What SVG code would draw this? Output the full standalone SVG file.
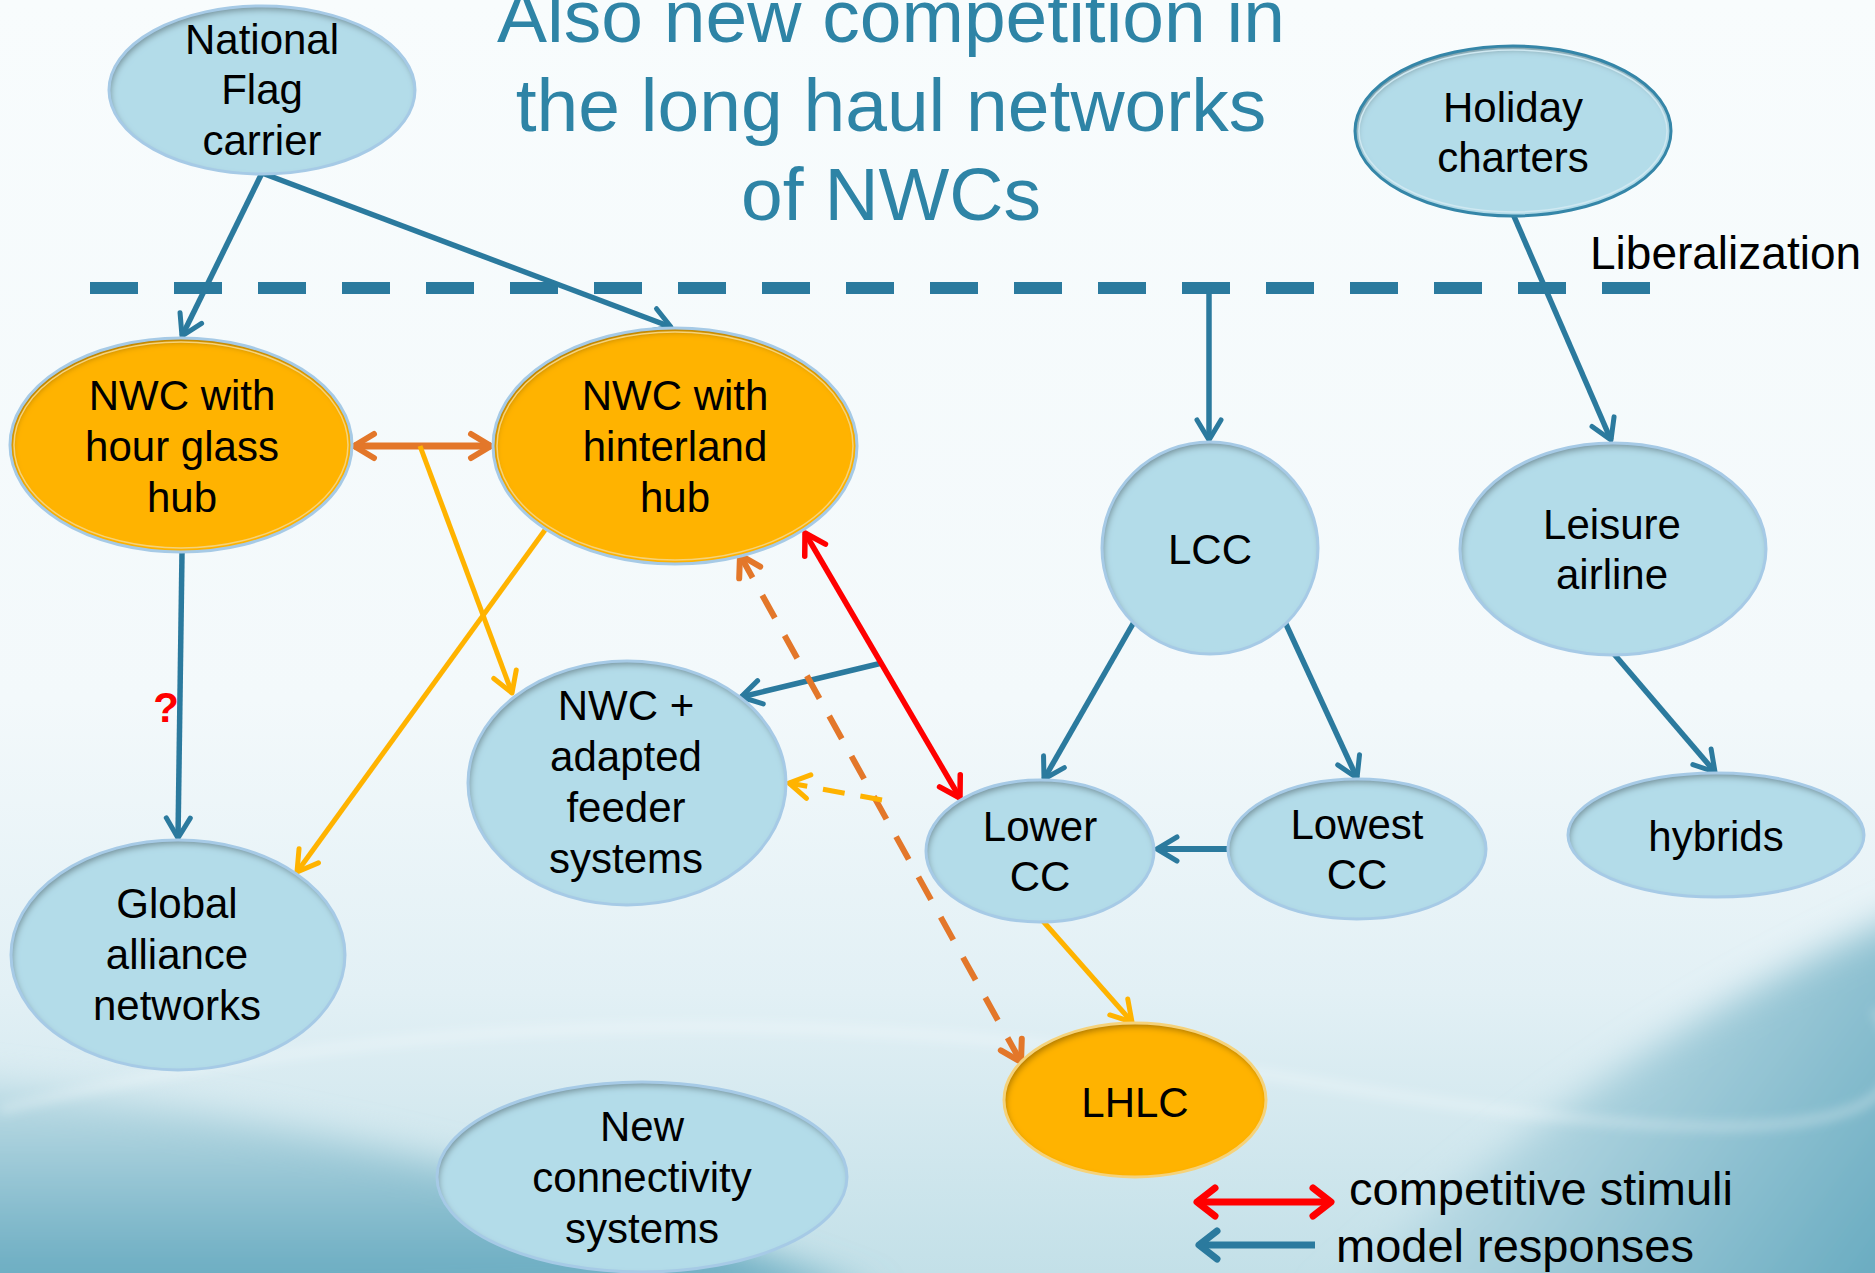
<svg xmlns="http://www.w3.org/2000/svg" width="1875" height="1273" viewBox="0 0 1875 1273">
  <defs>
    <linearGradient id="bg" x1="0" y1="0" x2="0" y2="1">
      <stop offset="0" stop-color="#F8FCFD"/>
      <stop offset="0.55" stop-color="#F3F9FB"/>
      <stop offset="0.78" stop-color="#E2F0F5"/>
      <stop offset="1" stop-color="#C3E0E8"/>
    </linearGradient>
    <linearGradient id="swoopL" gradientUnits="userSpaceOnUse" x1="0" y1="1070" x2="0" y2="1273">
      <stop offset="0" stop-color="#C6E1E9"/>
      <stop offset="1" stop-color="#6CADC2"/>
    </linearGradient>
    <linearGradient id="swoopR" gradientUnits="userSpaceOnUse" x1="1450" y1="960" x2="1875" y2="1273">
      <stop offset="0" stop-color="#D2E8EF"/>
      <stop offset="1" stop-color="#6AACC1"/>
    </linearGradient>
    <filter id="soft" x="-10%" y="-50%" width="120%" height="200%">
      <feGaussianBlur stdDeviation="6"/>
    </filter>
    <filter id="haze" x="-20%" y="-30%" width="140%" height="160%">
      <feGaussianBlur stdDeviation="18"/>
    </filter>
    <!-- inner shadow for the node discs -->
    <filter id="inset" x="-10%" y="-10%" width="120%" height="120%">
      <feComponentTransfer in="SourceAlpha" result="inv">
        <feFuncA type="table" tableValues="1 0"/>
      </feComponentTransfer>
      <feGaussianBlur in="inv" stdDeviation="3" result="blur"/>
      <feOffset in="blur" dx="2" dy="4" result="off"/>
      <feComposite in="off" in2="SourceAlpha" operator="in" result="shadow"/>
      <feFlood flood-color="#000" flood-opacity="0.6"/>
      <feComposite in2="shadow" operator="in" result="dark"/>
      <feMerge>
        <feMergeNode in="SourceGraphic"/>
        <feMergeNode in="dark"/>
      </feMerge>
    </filter>
    <marker id="hBlue" markerUnits="userSpaceOnUse" viewBox="-26 -16 30 32" refX="0" refY="0" markerWidth="30" markerHeight="32" orient="auto-start-reverse">
      <path d="M-20,-12 L0,0 L-20,12" fill="none" stroke="#2B7A9E" stroke-width="5" stroke-linecap="round" stroke-linejoin="round"/>
    </marker>
    <marker id="hBlueL" markerUnits="userSpaceOnUse" viewBox="-26 -18 30 36" refX="0" refY="0" markerWidth="30" markerHeight="36" orient="auto-start-reverse">
      <path d="M-18,-14 L0,0 L-18,14" fill="none" stroke="#2B7A9E" stroke-width="7" stroke-linecap="round" stroke-linejoin="round"/>
    </marker>
    <marker id="hRed" markerUnits="userSpaceOnUse" viewBox="-26 -16 30 32" refX="0" refY="0" markerWidth="30" markerHeight="32" orient="auto-start-reverse">
      <path d="M-20,-12 L0,0 L-20,12" fill="none" stroke="#FF0000" stroke-width="5.5" stroke-linecap="round" stroke-linejoin="round"/>
    </marker>
    <marker id="hRedL" markerUnits="userSpaceOnUse" viewBox="-26 -18 30 36" refX="0" refY="0" markerWidth="30" markerHeight="36" orient="auto-start-reverse">
      <path d="M-18,-14 L0,0 L-18,14" fill="none" stroke="#FF0000" stroke-width="7" stroke-linecap="round" stroke-linejoin="round"/>
    </marker>
    <marker id="hOrange" markerUnits="userSpaceOnUse" viewBox="-26 -16 30 32" refX="0" refY="0" markerWidth="30" markerHeight="32" orient="auto-start-reverse">
      <path d="M-20,-12 L0,0 L-20,12" fill="none" stroke="#E3772A" stroke-width="6" stroke-linecap="round" stroke-linejoin="round"/>
    </marker>
    <marker id="hYellow" markerUnits="userSpaceOnUse" viewBox="-26 -16 30 32" refX="0" refY="0" markerWidth="30" markerHeight="32" orient="auto-start-reverse">
      <path d="M-20,-12 L0,0 L-20,12" fill="none" stroke="#FFB300" stroke-width="5" stroke-linecap="round" stroke-linejoin="round"/>
    </marker>
  </defs>
  <style>
    .lbl { font-family: "Liberation Sans", Arial, sans-serif; font-size: 42px; fill: #000; text-anchor: middle; }
    .title { font-family: "Liberation Sans", Arial, sans-serif; font-size: 75px; fill: #2E84A6; text-anchor: middle; }
    .note { font-family: "Liberation Sans", Arial, sans-serif; font-size: 47px; fill: #000; }
    .blue { fill: #B3DCE9; filter: url(#inset); }
    .gold { fill: #FFB300; filter: url(#inset); }
    .rim { fill: none; stroke: #A6CAE6; stroke-width: 3; }
    .rimGold { fill: none; stroke: #F5D27A; stroke-width: 3; }
    .rimTeal { fill: none; stroke: #3586A8; stroke-width: 3; }
    .c { fill: none; stroke-linecap: butt; }
    .cb { stroke: #2B7A9E; stroke-width: 5.5; marker-end: url(#hBlue); }
    .cy { stroke: #FFB300; stroke-width: 5; marker-end: url(#hYellow); }
  </style>

  <!-- backdrop -->
  <rect x="0" y="0" width="1875" height="1273" fill="url(#bg)"/>
  <path d="M-60,1080 Q430,1125 880,1300 L-60,1320 Z" fill="url(#swoopL)" filter="url(#haze)"/>
  <path d="M1940,900 Q1600,1040 1320,1310 L1940,1320 Z" fill="url(#swoopR)" filter="url(#haze)"/>
  <path d="M0,1110 Q600,960 1300,1080 T1875,1010" fill="none" stroke="#FFFFFF" stroke-opacity="0.45" stroke-width="6" filter="url(#soft)"/>

  <!-- title -->
  <g id="title">
    <text class="title" x="891" y="42">Also new competition in</text>
    <text class="title" x="891" y="131">the long haul networks</text>
    <text class="title" x="891" y="220">of NWCs</text>
  </g>

  <!-- liberalization boundary -->
  <g id="liberalization">
    <line x1="90" y1="288" x2="1650" y2="288" stroke="#2B7A9E" stroke-width="12" stroke-dasharray="48 36"/>
    <text class="note" x="1590" y="269" style="font-size:46px">Liberalization</text>
  </g>

  <!-- connectors -->
  <g id="connectors">
    <path class="c cb" d="M262,173 L182,336"/>
    <path class="c cb" d="M262,173 L671,327"/>
    <path class="c cb" d="M1209,288 L1209,440"/>
    <path class="c cb" d="M1513,214 L1611,440"/>
    <path class="c cb" d="M182,553 L178,838"/>
    <path class="c cb" d="M1134,622 L1044,779"/>
    <path class="c cb" d="M1285,622 L1357,778"/>
    <path class="c cb" d="M1614,654 L1715,772"/>
    <path class="c cb" d="M1228,849 L1157,849" style="stroke-width:6"/>
    <path class="c cb" d="M882,663 L741,697"/>
    <path class="c" d="M805,533 L960,798" stroke="#FF0000" stroke-width="5.5" marker-start="url(#hRed)" marker-end="url(#hRed)"/>
    <path class="c" d="M354,446 L491,446" stroke="#E3772A" stroke-width="7" marker-start="url(#hOrange)" marker-end="url(#hOrange)"/>
    <path class="c" d="M740,555 L1021,1062" stroke="#E3772A" stroke-width="6" stroke-dasharray="26 20" marker-start="url(#hOrange)" marker-end="url(#hOrange)"/>
    <path class="c cy" d="M420,446 L512,693"/>
    <path class="c cy" d="M545,530 L297,872"/>
    <path class="c cy" d="M882,800 L789,783" style="stroke-dasharray:22 16"/>
    <path class="c cy" d="M1042,920 L1132,1022"/>
  </g>

  <g id="q-mark">
    <text x="166" y="722" style="font-family:'Liberation Sans',Arial,sans-serif;font-size:42px;font-weight:bold;fill:#FF0000;text-anchor:middle">?</text>
  </g>

  <!-- nodes -->
  <g id="national-flag-carrier">
    <ellipse class="blue" cx="262" cy="90" rx="153" ry="84"/>
    <ellipse class="rim" cx="262" cy="90" rx="153" ry="84"/>
    <text class="lbl" x="262" y="54">National</text>
    <text class="lbl" x="262" y="104">Flag</text>
    <text class="lbl" x="262" y="155">carrier</text>
  </g>
  <g id="holiday-charters">
    <ellipse class="blue" cx="1513" cy="131" rx="158" ry="85"/>
    <ellipse class="rimTeal" cx="1513" cy="131" rx="158" ry="85"/>
    <ellipse cx="1513" cy="131" rx="154" ry="81" fill="none" stroke="#CFE8F1" stroke-width="1.5"/>
    <text class="lbl" x="1513" y="122">Holiday</text>
    <text class="lbl" x="1513" y="172">charters</text>
  </g>
  <g id="nwc-hour-glass-hub">
    <ellipse class="gold" cx="181" cy="445" rx="171" ry="107"/>
    <ellipse class="rim" cx="181" cy="445" rx="171" ry="107"/>
    <ellipse class="rimGold" cx="181" cy="445" rx="167" ry="103" style="stroke-width:1.5"/>
    <text class="lbl" x="182" y="410">NWC with</text>
    <text class="lbl" x="182" y="461">hour glass</text>
    <text class="lbl" x="182" y="512">hub</text>
  </g>
  <g id="nwc-hinterland-hub">
    <ellipse class="gold" cx="675" cy="446" rx="182" ry="118"/>
    <ellipse class="rim" cx="675" cy="446" rx="182" ry="118"/>
    <ellipse class="rimGold" cx="675" cy="446" rx="178" ry="114" style="stroke-width:1.5"/>
    <text class="lbl" x="675" y="410">NWC with</text>
    <text class="lbl" x="675" y="461">hinterland</text>
    <text class="lbl" x="675" y="512">hub</text>
  </g>
  <g id="lcc">
    <ellipse class="blue" cx="1210" cy="548" rx="108" ry="106"/>
    <ellipse class="rim" cx="1210" cy="548" rx="108" ry="106"/>
    <text class="lbl" x="1210" y="564">LCC</text>
  </g>
  <g id="leisure-airline">
    <ellipse class="blue" cx="1613" cy="549" rx="153" ry="106"/>
    <ellipse class="rim" cx="1613" cy="549" rx="153" ry="106"/>
    <text class="lbl" x="1612" y="539">Leisure</text>
    <text class="lbl" x="1612" y="589">airline</text>
  </g>
  <g id="nwc-adapted-feeder">
    <ellipse class="blue" cx="627" cy="783" rx="159" ry="122"/>
    <ellipse class="rim" cx="627" cy="783" rx="159" ry="122"/>
    <text class="lbl" x="626" y="720">NWC +</text>
    <text class="lbl" x="626" y="771">adapted</text>
    <text class="lbl" x="626" y="822">feeder</text>
    <text class="lbl" x="626" y="873">systems</text>
  </g>
  <g id="global-alliance-networks">
    <ellipse class="blue" cx="178" cy="955" rx="167" ry="115"/>
    <ellipse class="rim" cx="178" cy="955" rx="167" ry="115"/>
    <text class="lbl" x="177" y="918">Global</text>
    <text class="lbl" x="177" y="969">alliance</text>
    <text class="lbl" x="177" y="1020">networks</text>
  </g>
  <g id="lower-cc">
    <ellipse class="blue" cx="1040" cy="851" rx="114" ry="71"/>
    <ellipse class="rim" cx="1040" cy="851" rx="114" ry="71"/>
    <text class="lbl" x="1040" y="841">Lower</text>
    <text class="lbl" x="1040" y="891">CC</text>
  </g>
  <g id="lowest-cc">
    <ellipse class="blue" cx="1357" cy="849" rx="129" ry="70"/>
    <ellipse class="rim" cx="1357" cy="849" rx="129" ry="70"/>
    <text class="lbl" x="1357" y="839">Lowest</text>
    <text class="lbl" x="1357" y="889">CC</text>
  </g>
  <g id="hybrids">
    <ellipse class="blue" cx="1716" cy="835" rx="148" ry="62"/>
    <ellipse class="rim" cx="1716" cy="835" rx="148" ry="62"/>
    <text class="lbl" x="1716" y="851">hybrids</text>
  </g>
  <g id="lhlc">
    <ellipse class="gold" cx="1135" cy="1100" rx="131" ry="77"/>
    <ellipse class="rimGold" cx="1135" cy="1100" rx="131" ry="77"/>
    <text class="lbl" x="1135" y="1117">LHLC</text>
  </g>
  <g id="new-connectivity-systems">
    <ellipse class="blue" cx="642" cy="1177" rx="205" ry="95"/>
    <ellipse class="rim" cx="642" cy="1177" rx="205" ry="95"/>
    <text class="lbl" x="642" y="1141">New</text>
    <text class="lbl" x="642" y="1192">connectivity</text>
    <text class="lbl" x="642" y="1243">systems</text>
  </g>

  <!-- key -->
  <g id="legend">
    <path d="M1197,1202 L1331,1202" fill="none" stroke="#FF0000" stroke-width="7" marker-start="url(#hRedL)" marker-end="url(#hRedL)"/>
    <text class="note" x="1349" y="1205">competitive stimuli</text>
    <path d="M1315,1245 L1199,1245" fill="none" stroke="#2B7A9E" stroke-width="7" marker-end="url(#hBlueL)"/>
    <text class="note" x="1336" y="1262">model responses</text>
  </g>
</svg>
